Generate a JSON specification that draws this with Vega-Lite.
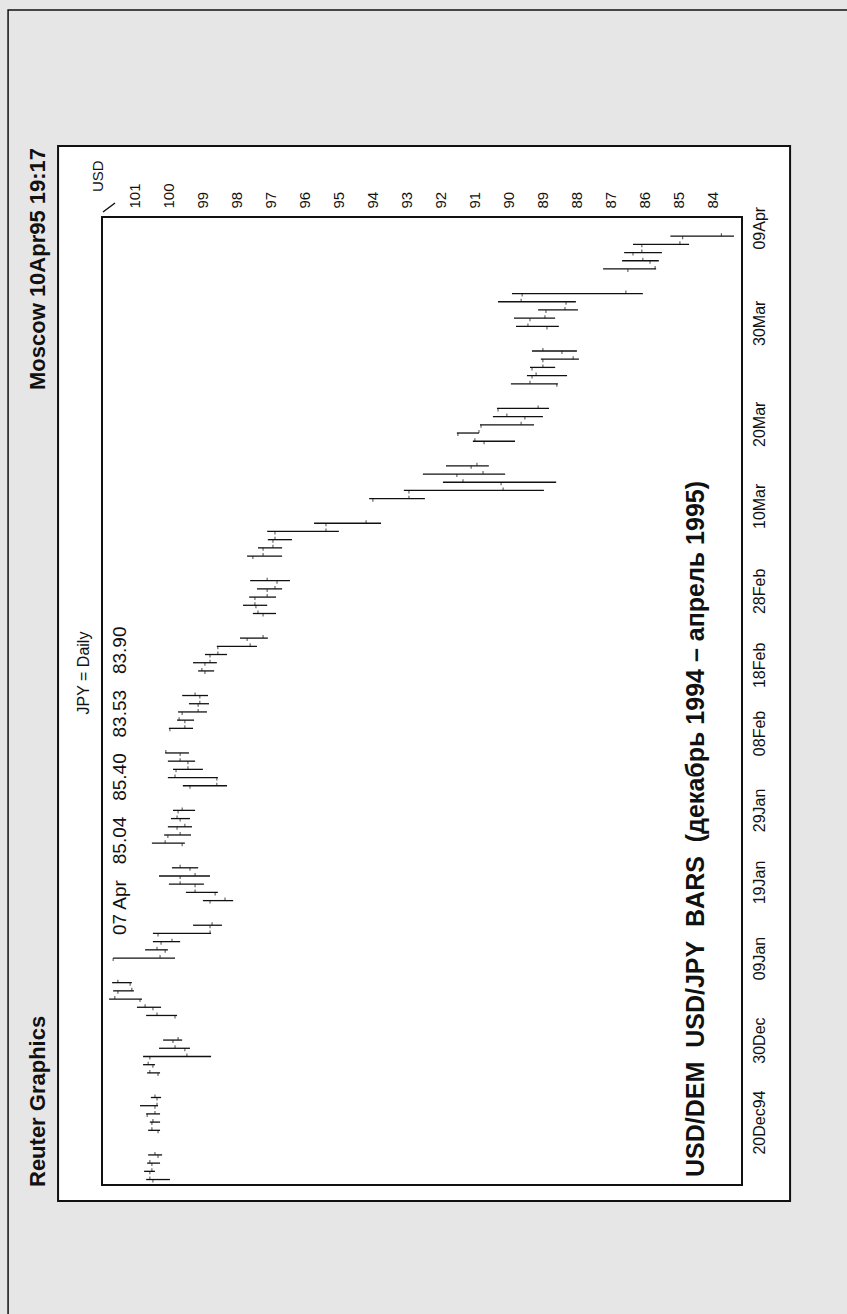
{
  "$schema": "https://vega.github.io/schema/vega-lite/v6.json",
  "width": 640,
  "height": 968,
  "autosize": {"type": "none"},
  "padding": {"left": 102, "top": 217, "right": 105, "bottom": 129},
  "background": "#e6e6e6",
  "config": {"font": "Liberation Sans", "view": {"stroke": null}},
  "resolve": {"axis": {"x": "independent", "y": "independent"}},
  "data": {
    "values": [
      {"date": "1994-12-13", "open": 100.62, "high": 100.82, "low": 100.12, "close": 100.71},
      {"date": "1994-12-14", "open": 100.71, "high": 100.88, "low": 100.56, "close": 100.65},
      {"date": "1994-12-15", "open": 100.65, "high": 100.79, "low": 100.41, "close": 100.71},
      {"date": "1994-12-16", "open": 100.47, "high": 100.76, "low": 100.35, "close": 100.56},
      {"date": "1994-12-19", "open": 100.47, "high": 100.76, "low": 100.41, "close": 100.65},
      {"date": "1994-12-20", "open": 100.65, "high": 100.71, "low": 100.41, "close": 100.62},
      {"date": "1994-12-21", "open": 100.79, "high": 100.82, "low": 100.41, "close": 100.56},
      {"date": "1994-12-22", "open": 100.56, "high": 101.00, "low": 100.47, "close": 100.50},
      {"date": "1994-12-23", "open": 100.50, "high": 100.68, "low": 100.38, "close": 100.56},
      {"date": "1994-12-26", "open": 100.47, "high": 100.79, "low": 100.41, "close": 100.71},
      {"date": "1994-12-27", "open": 100.62, "high": 100.91, "low": 100.56, "close": 100.76},
      {"date": "1994-12-28", "open": 100.71, "high": 100.91, "low": 98.91, "close": 99.62},
      {"date": "1994-12-29", "open": 99.68, "high": 100.44, "low": 99.53, "close": 99.97},
      {"date": "1994-12-30", "open": 100.03, "high": 100.32, "low": 99.76, "close": 99.88},
      {"date": "1995-01-02", "open": 99.97, "high": 100.82, "low": 99.91, "close": 100.50},
      {"date": "1995-01-03", "open": 100.62, "high": 101.09, "low": 100.38, "close": 100.85},
      {"date": "1995-01-04", "open": 101.00, "high": 101.91, "low": 100.94, "close": 101.74},
      {"date": "1995-01-05", "open": 101.65, "high": 101.79, "low": 101.18, "close": 101.24},
      {"date": "1995-01-06", "open": 101.29, "high": 101.82, "low": 101.24, "close": 101.65},
      {"date": "1995-01-09", "open": 101.79, "high": 101.79, "low": 99.97, "close": 100.41},
      {"date": "1995-01-10", "open": 100.26, "high": 100.85, "low": 100.18, "close": 100.50},
      {"date": "1995-01-11", "open": 100.38, "high": 100.62, "low": 99.82, "close": 100.06},
      {"date": "1995-01-12", "open": 100.47, "high": 100.62, "low": 98.91, "close": 98.94},
      {"date": "1995-01-13", "open": 98.94, "high": 99.44, "low": 98.59, "close": 98.88},
      {"date": "1995-01-16", "open": 98.94, "high": 99.15, "low": 98.26, "close": 98.50},
      {"date": "1995-01-17", "open": 98.79, "high": 99.65, "low": 98.71, "close": 99.38},
      {"date": "1995-01-18", "open": 99.38, "high": 100.15, "low": 99.12, "close": 99.82},
      {"date": "1995-01-19", "open": 99.82, "high": 100.44, "low": 98.94, "close": 99.38},
      {"date": "1995-01-20", "open": 99.53, "high": 100.06, "low": 99.29, "close": 99.82},
      {"date": "1995-01-23", "open": 99.76, "high": 100.65, "low": 99.68, "close": 100.26},
      {"date": "1995-01-24", "open": 100.18, "high": 100.29, "low": 99.50, "close": 99.82},
      {"date": "1995-01-25", "open": 99.91, "high": 100.18, "low": 99.47, "close": 99.68},
      {"date": "1995-01-26", "open": 99.82, "high": 100.09, "low": 99.53, "close": 99.91},
      {"date": "1995-01-27", "open": 99.88, "high": 100.03, "low": 99.38, "close": 99.76},
      {"date": "1995-01-30", "open": 99.53, "high": 99.74, "low": 98.44, "close": 98.74},
      {"date": "1995-01-31", "open": 98.74, "high": 100.18, "low": 98.71, "close": 99.97},
      {"date": "1995-02-01", "open": 99.94, "high": 100.03, "low": 99.15, "close": 99.59},
      {"date": "1995-02-02", "open": 99.59, "high": 100.18, "low": 99.38, "close": 99.82},
      {"date": "1995-02-03", "open": 99.82, "high": 100.26, "low": 99.56, "close": 100.24},
      {"date": "1995-02-06", "open": 100.12, "high": 100.15, "low": 99.44, "close": 99.68},
      {"date": "1995-02-07", "open": 99.68, "high": 99.91, "low": 99.41, "close": 99.85},
      {"date": "1995-02-08", "open": 99.76, "high": 99.88, "low": 99.03, "close": 99.29},
      {"date": "1995-02-09", "open": 99.29, "high": 99.56, "low": 98.97, "close": 99.24},
      {"date": "1995-02-10", "open": 99.24, "high": 99.76, "low": 99.00, "close": 99.38},
      {"date": "1995-02-13", "open": 99.09, "high": 99.29, "low": 98.82, "close": 99.18},
      {"date": "1995-02-14", "open": 99.09, "high": 99.44, "low": 98.74, "close": 98.94},
      {"date": "1995-02-15", "open": 98.94, "high": 99.09, "low": 98.44, "close": 98.71},
      {"date": "1995-02-16", "open": 98.71, "high": 98.74, "low": 97.56, "close": 97.76},
      {"date": "1995-02-17", "open": 97.85, "high": 98.06, "low": 97.24, "close": 97.38},
      {"date": "1995-02-20", "open": 97.38, "high": 97.68, "low": 97.00, "close": 97.53},
      {"date": "1995-02-21", "open": 97.59, "high": 97.97, "low": 97.26, "close": 97.62},
      {"date": "1995-02-22", "open": 97.62, "high": 97.79, "low": 97.00, "close": 97.26},
      {"date": "1995-02-23", "open": 97.26, "high": 97.56, "low": 96.82, "close": 97.03},
      {"date": "1995-02-24", "open": 96.97, "high": 97.76, "low": 96.59, "close": 97.26},
      {"date": "1995-02-27", "open": 97.68, "high": 97.85, "low": 96.82, "close": 97.38},
      {"date": "1995-02-28", "open": 97.38, "high": 97.53, "low": 96.82, "close": 97.09},
      {"date": "1995-03-01", "open": 97.09, "high": 97.24, "low": 96.53, "close": 97.03},
      {"date": "1995-03-02", "open": 97.03, "high": 97.26, "low": 95.15, "close": 95.53},
      {"date": "1995-03-03", "open": 95.53, "high": 95.88, "low": 93.91, "close": 94.35},
      {"date": "1995-03-06", "open": 94.15, "high": 94.26, "low": 92.62, "close": 93.09},
      {"date": "1995-03-07", "open": 93.09, "high": 93.24, "low": 89.12, "close": 90.32},
      {"date": "1995-03-08", "open": 90.38, "high": 92.09, "low": 88.76, "close": 91.50},
      {"date": "1995-03-09", "open": 91.68, "high": 92.68, "low": 90.26, "close": 90.91},
      {"date": "1995-03-10", "open": 91.26, "high": 92.00, "low": 90.74, "close": 91.09},
      {"date": "1995-03-13", "open": 90.88, "high": 91.21, "low": 89.97, "close": 91.15},
      {"date": "1995-03-14", "open": 91.65, "high": 91.68, "low": 91.03, "close": 91.03},
      {"date": "1995-03-15", "open": 90.97, "high": 91.00, "low": 89.41, "close": 89.79},
      {"date": "1995-03-16", "open": 89.68, "high": 90.62, "low": 89.15, "close": 90.21},
      {"date": "1995-03-17", "open": 90.47, "high": 90.50, "low": 88.97, "close": 89.29},
      {"date": "1995-03-20", "open": 88.74, "high": 90.09, "low": 88.71, "close": 89.53},
      {"date": "1995-03-21", "open": 89.47, "high": 89.62, "low": 88.44, "close": 89.35},
      {"date": "1995-03-22", "open": 89.47, "high": 89.53, "low": 88.79, "close": 89.15},
      {"date": "1995-03-23", "open": 89.15, "high": 89.21, "low": 88.09, "close": 88.26},
      {"date": "1995-03-24", "open": 88.59, "high": 89.47, "low": 88.15, "close": 89.15},
      {"date": "1995-03-27", "open": 89.03, "high": 89.94, "low": 88.68, "close": 89.59},
      {"date": "1995-03-28", "open": 89.53, "high": 90.00, "low": 88.79, "close": 89.09},
      {"date": "1995-03-29", "open": 89.06, "high": 89.29, "low": 88.12, "close": 88.50},
      {"date": "1995-03-30", "open": 88.47, "high": 90.47, "low": 88.18, "close": 89.79},
      {"date": "1995-03-31", "open": 89.76, "high": 90.06, "low": 86.21, "close": 86.71},
      {"date": "1995-04-03", "open": 86.65, "high": 87.38, "low": 85.82, "close": 85.85},
      {"date": "1995-04-04", "open": 86.00, "high": 86.82, "low": 85.74, "close": 86.21},
      {"date": "1995-04-05", "open": 86.50, "high": 86.76, "low": 85.65, "close": 86.24},
      {"date": "1995-04-06", "open": 86.24, "high": 86.50, "low": 84.85, "close": 85.12},
      {"date": "1995-04-07", "open": 85.04, "high": 85.40, "low": 83.53, "close": 83.90}
    ]
  },
  "layer": [
    {
      "data": {"values": [{}]},
      "mark": {"type": "rect", "filled": false, "stroke": "#111", "strokeWidth": 1.5},
      "encoding": {
        "x": {"datum": 104.88, "type": "quantitative", "axis": null},
        "x2": {"datum": 79.65},
        "y": {"datum": {"year": 1995, "month": 5, "date": 4, "hours": 13, "minutes": 36, "utc": true}, "type": "temporal", "axis": null},
        "y2": {"datum": {"year": 1994, "month": 11, "date": 24, "hours": 15, "minutes": 46, "utc": true}}
      }
    },
    {
      "data": {"values": [{}]},
      "mark": {"type": "rect", "fill": "white", "stroke": "#111", "strokeWidth": 2},
      "encoding": {
        "x": {"datum": 103.41, "type": "quantitative", "axis": null},
        "x2": {"datum": 81.88},
        "y": {"datum": {"year": 1995, "month": 4, "date": 17, "hours": 23, "minutes": 43, "utc": true}, "type": "temporal", "axis": null},
        "y2": {"datum": {"year": 1994, "month": 12, "date": 10, "hours": 9, "minutes": 12, "utc": true}}
      }
    },
    {
      "data": {"values": [{}]},
      "mark": {"type": "rect", "filled": false, "stroke": "#111", "strokeWidth": 2},
      "encoding": {
        "x": {"datum": 102.1176, "type": "quantitative", "axis": null},
        "x2": {"datum": 83.294},
        "y": {"datum": {"year": 1995, "month": 4, "date": 9, "hours": 8, "utc": true}, "type": "temporal", "axis": null},
        "y2": {"datum": {"year": 1994, "month": 12, "date": 12, "hours": 8, "utc": true}}
      }
    },
    {
      "mark": {"type": "rule", "color": "#111", "strokeWidth": 1.3},
      "encoding": {
        "x": {
          "field": "high",
          "type": "quantitative",
          "scale": {"domain": [102.1176, 83.294], "nice": false, "zero": false},
          "axis": {
            "orient": "top",
            "zindex": 2,
            "values": [84, 85, 86, 87, 88, 89, 90, 91, 92, 93, 94, 95, 96, 97, 98, 99, 100, 101],
            "title": null,
            "labelAngle": 270,
            "labelAlign": "left",
            "labelBaseline": "alphabetic",
            "labelPadding": 9,
            "labelFontSize": 15,
            "labelColor": "#111",
            "labelOverlap": false,
            "labelFlush": false,
            "ticks": false,
            "domain": false,
            "grid": false
          }
        },
        "x2": {"field": "low"},
        "y": {
          "field": "date",
          "type": "temporal",
          "scale": {
            "type": "utc",
            "domain": [
              {"year": 1994, "month": 12, "date": 12, "hours": 8, "utc": true},
              {"year": 1995, "month": 4, "date": 9, "hours": 8, "utc": true}
            ]
          },
          "axis": {
            "orient": "right",
            "zindex": 2,
            "values": [
              {"year": 1994, "month": 12, "date": 20, "utc": true},
              {"year": 1994, "month": 12, "date": 30, "utc": true},
              {"year": 1995, "month": 1, "date": 9, "utc": true},
              {"year": 1995, "month": 1, "date": 19, "utc": true},
              {"year": 1995, "month": 1, "date": 29, "utc": true},
              {"year": 1995, "month": 2, "date": 8, "utc": true},
              {"year": 1995, "month": 2, "date": 18, "utc": true},
              {"year": 1995, "month": 2, "date": 28, "utc": true},
              {"year": 1995, "month": 3, "date": 10, "utc": true},
              {"year": 1995, "month": 3, "date": 20, "utc": true},
              {"year": 1995, "month": 3, "date": 30, "utc": true},
              {"year": 1995, "month": 4, "date": 9, "utc": true}
            ],
            "labelExpr": "utcFormat(datum.value, utcmonth(datum.value) == 11 && utcdate(datum.value) == 20 ? '%d%b%y' : '%d%b')",
            "labelOffset": {
              "condition": [
                {"test": "utcmonth(datum.value) == 0 && utcdate(datum.value) == 19", "value": 6},
                {"test": "utcmonth(datum.value) == 0 && utcdate(datum.value) == 29", "value": 16},
                {"test": "utcmonth(datum.value) == 1 && utcdate(datum.value) == 8", "value": 21},
                {"test": "utcmonth(datum.value) == 1 && utcdate(datum.value) == 18", "value": 35},
                {"test": "utcmonth(datum.value) == 1 && utcdate(datum.value) == 28", "value": 43},
                {"test": "utcmonth(datum.value) == 2 && utcdate(datum.value) == 10", "value": 40},
                {"test": "utcmonth(datum.value) == 2 && utcdate(datum.value) == 20", "value": 40},
                {"test": "utcmonth(datum.value) == 2 && utcdate(datum.value) == 30", "value": 21},
                {"test": "utcmonth(datum.value) == 3 && utcdate(datum.value) == 9", "value": 8}
              ],
              "value": 0
            },
            "title": null,
            "labelAngle": 270,
            "labelAlign": "center",
            "labelBaseline": "top",
            "labelPadding": 9,
            "labelFontSize": 16,
            "labelColor": "#111",
            "labelOverlap": false,
            "labelFlush": false,
            "ticks": false,
            "domain": false,
            "grid": false
          }
        }
      }
    },
    {
      "mark": {"type": "tick", "orient": "vertical", "size": 3, "thickness": 1.1, "yOffset": 1.5, "color": "#111"},
      "encoding": {
        "x": {"field": "open", "type": "quantitative", "axis": null},
        "y": {"field": "date", "type": "temporal", "axis": null}
      }
    },
    {
      "mark": {"type": "tick", "orient": "vertical", "size": 3, "thickness": 1.1, "yOffset": -1.5, "color": "#111"},
      "encoding": {
        "x": {"field": "close", "type": "quantitative", "axis": null},
        "y": {"field": "date", "type": "temporal", "axis": null}
      }
    },
    {
      "data": {"values": [{}]},
      "mark": {"type": "rule", "color": "#111", "strokeWidth": 1.5},
      "encoding": {
        "x": {"datum": 102.088, "type": "quantitative", "axis": null},
        "x2": {"datum": 101.735},
        "y": {"datum": {"year": 1995, "month": 4, "date": 9, "hours": 22, "minutes": 38, "utc": true}, "type": "temporal", "axis": null},
        "y2": {"datum": {"year": 1995, "month": 4, "date": 11, "hours": 1, "minutes": 0, "utc": true}}
      }
    },
    {
      "data": {"values": [{}]},
      "mark": {"type": "text", "text": "USD", "angle": 270, "align": "left", "baseline": "middle", "fontSize": 15, "color": "#111"},
      "encoding": {
        "x": {"datum": 102.235, "type": "quantitative", "axis": null},
        "y": {"datum": {"year": 1995, "month": 4, "date": 12, "hours": 9, "minutes": 12, "utc": true}, "type": "temporal", "axis": null}
      }
    },
    {
      "data": {"values": [{}]},
      "mark": {"type": "text", "text": "Moscow 10Apr95 19:17", "angle": 270, "align": "left", "baseline": "middle", "fontSize": 22, "fontWeight": "bold", "color": "#111"},
      "encoding": {
        "x": {"datum": 104.0, "type": "quantitative", "axis": null},
        "y": {"datum": {"year": 1995, "month": 3, "date": 19, "hours": 5, "minutes": 50, "utc": true}, "type": "temporal", "axis": null}
      }
    },
    {
      "data": {"values": [{}]},
      "mark": {"type": "text", "text": "Reuter Graphics", "angle": 270, "align": "left", "baseline": "middle", "fontSize": 22, "fontWeight": "bold", "color": "#111"},
      "encoding": {
        "x": {"datum": 104.0, "type": "quantitative", "axis": null},
        "y": {"datum": {"year": 1994, "month": 12, "date": 12, "hours": 2, "minutes": 9, "utc": true}, "type": "temporal", "axis": null}
      }
    },
    {
      "data": {"values": [{}]},
      "mark": {"type": "text", "text": "JPY = Daily", "angle": 270, "align": "center", "baseline": "middle", "fontSize": 16, "color": "#111"},
      "encoding": {
        "x": {"datum": 102.647, "type": "quantitative", "axis": null},
        "y": {"datum": {"year": 1995, "month": 2, "date": 12, "hours": 17, "minutes": 54, "utc": true}, "type": "temporal", "axis": null}
      }
    },
    {
      "data": {"values": [{}]},
      "mark": {"type": "text", "text": "07 Apr\u00a0\u00a0\u00a085.04\u00a0\u00a0\u00a085.40\u00a0\u00a0\u00a083.53\u00a0\u00a0\u00a083.90", "angle": 270, "align": "left", "baseline": "middle", "fontSize": 19, "color": "#111"},
      "encoding": {
        "x": {"datum": 101.588, "type": "quantitative", "axis": null},
        "y": {"datum": {"year": 1995, "month": 1, "date": 11, "hours": 19, "minutes": 24, "utc": true}, "type": "temporal", "axis": null}
      }
    },
    {
      "data": {"values": [{}]},
      "mark": {"type": "text", "text": "USD/DEM\u00a0\u00a0USD/JPY\u00a0\u00a0BARS\u00a0\u00a0(декабрь 1994 – апрель 1995)", "angle": 270, "align": "left", "baseline": "middle", "fontSize": 25, "fontWeight": "bold", "color": "#111"},
      "encoding": {
        "x": {"datum": 84.647, "type": "quantitative", "axis": null},
        "y": {"datum": {"year": 1994, "month": 12, "date": 13, "hours": 7, "minutes": 24, "utc": true}, "type": "temporal", "axis": null}
      }
    }
  ]
}
